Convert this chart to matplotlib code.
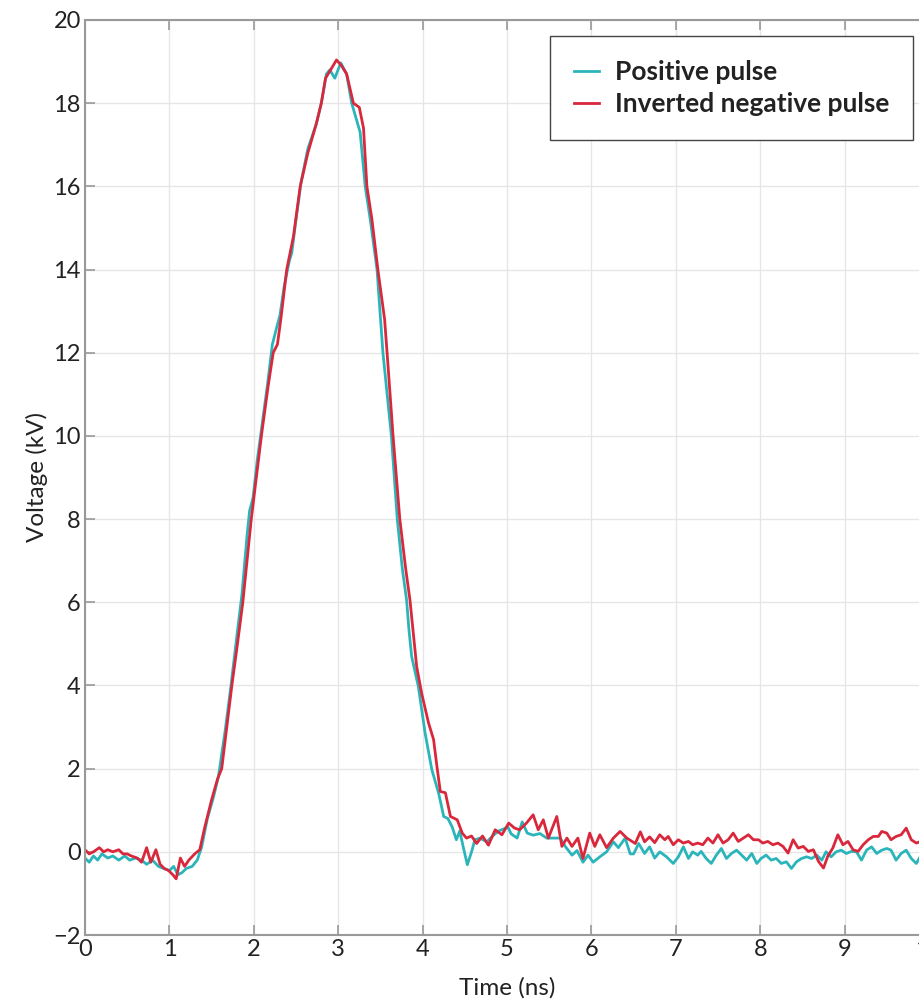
import matplotlib
matplotlib.use("Agg")
import matplotlib.pyplot as plt

# positive pulse (kV) vs time (ns)
pos_t = [0.0, 0.05, 0.1, 0.15, 0.2, 0.27, 0.33, 0.4, 0.47, 0.53, 0.6, 0.67, 0.73, 0.8, 0.87,
         0.93, 1.0, 1.05, 1.1, 1.15, 1.2, 1.27, 1.33, 1.38, 1.45, 1.52, 1.58, 1.66, 1.73, 1.8,
         1.86, 1.92, 1.95, 1.99, 2.04, 2.1, 2.16, 2.22, 2.27, 2.31, 2.36, 2.42, 2.45, 2.5, 2.56,
         2.64, 2.74, 2.8, 2.86, 2.9, 2.96, 3.03, 3.1, 3.16, 3.26, 3.32, 3.38, 3.46, 3.53, 3.58,
         3.63, 3.7, 3.76, 3.81, 3.84, 3.87, 3.95, 4.03, 4.11, 4.19, 4.25, 4.3, 4.35, 4.4, 4.44,
         4.48, 4.53, 4.58, 4.62, 4.68, 4.76, 4.84, 4.9, 4.96, 5.01, 5.05, 5.12, 5.18, 5.24, 5.31,
         5.39, 5.47, 5.55, 5.63, 5.69, 5.77, 5.83, 5.9, 5.96, 6.02, 6.1, 6.18, 6.26, 6.32, 6.4,
         6.46, 6.5, 6.56, 6.63, 6.69, 6.75, 6.81, 6.89, 6.97, 7.03, 7.09, 7.15, 7.20, 7.26, 7.30,
         7.36, 7.42, 7.48, 7.54, 7.60, 7.66, 7.72, 7.78, 7.84, 7.90, 7.96, 8.01, 8.07, 8.13, 8.19,
         8.25, 8.31, 8.37, 8.43, 8.49, 8.55, 8.61, 8.67, 8.73, 8.78, 8.84, 8.90, 8.96, 9.02, 9.08,
         9.14, 9.20, 9.26, 9.32, 9.38, 9.44, 9.50, 9.55, 9.61, 9.67, 9.73, 9.79, 9.85, 9.90, 9.95,
         10.0]
pos_v = [-0.15, -0.25, -0.1, -0.2, -0.05, -0.15, -0.1, -0.2, -0.1, -0.2, -0.15, -0.2, -0.3, -0.2,
         -0.35, -0.4, -0.45, -0.35, -0.55, -0.5, -0.4, -0.35, -0.2, 0.1, 0.8, 1.3, 1.8, 2.9, 4.0,
         5.2, 6.2, 7.6, 8.2, 8.5, 9.4, 10.3, 11.2, 12.2, 12.6, 12.9, 13.6, 14.2, 14.4, 15.2, 16.1,
         16.9, 17.5, 18.0, 18.7, 18.8, 18.6, 18.97, 18.7, 18.0, 17.3, 16.0, 15.2, 14.0, 12.0, 11.0,
         10.0, 8.0, 6.8, 6.06, 5.3, 4.7, 3.97, 2.85, 1.97, 1.41, 0.85, 0.8, 0.6, 0.29, 0.5,
         0.13, -0.31, 0.0, 0.29, 0.33, 0.24, 0.4, 0.5, 0.55, 0.6, 0.43, 0.33, 0.72, 0.45, 0.4,
         0.44, 0.33, 0.33, 0.33, 0.13, -0.08, 0.03, -0.25, -0.08, -0.25, -0.12, 0.0, 0.24, 0.1, 0.33,
         -0.05, -0.05, 0.2, -0.04, 0.12, -0.15, 0.0, -0.12, -0.28, -0.12, 0.12, -0.16, 0.0, -0.08, 0.01,
         -0.16, -0.28, -0.08, 0.08, -0.16, -0.04, 0.04, -0.08, -0.2, -0.04, -0.28, -0.16, -0.08, -0.2, -0.16,
         -0.28, -0.24, -0.4, -0.24, -0.16, -0.12, -0.16, -0.08, -0.2, 0.0, -0.12, 0.0, 0.04, -0.04, 0.01,
         0.0, -0.2, 0.04, 0.12, -0.04, 0.04, 0.08, 0.04, -0.2, -0.04, 0.04, -0.16, -0.28, -0.1, -0.22,
         -0.08]

# inverted negative pulse
neg_t = [0.0, 0.05, 0.1, 0.17, 0.22, 0.27, 0.33, 0.4, 0.45, 0.5, 0.55, 0.62, 0.67, 0.73, 0.78,
         0.84, 0.89, 0.94, 0.99, 1.04, 1.08, 1.13, 1.18, 1.23, 1.3, 1.36, 1.42, 1.5, 1.57, 1.62,
         1.68, 1.74, 1.8, 1.87, 1.97, 2.09, 2.17, 2.23, 2.28, 2.32, 2.39, 2.47, 2.55, 2.64, 2.74,
         2.8, 2.85, 2.91, 2.98, 3.04, 3.1, 3.18, 3.25, 3.3, 3.34, 3.4, 3.47, 3.55, 3.59, 3.65,
         3.73, 3.8, 3.85, 3.93, 3.99, 4.07, 4.13, 4.17, 4.21, 4.27, 4.33, 4.41, 4.47, 4.52, 4.58,
         4.64, 4.71, 4.78, 4.86, 4.94, 5.02, 5.09, 5.15, 5.23, 5.31, 5.37, 5.43, 5.49, 5.59, 5.65,
         5.71, 5.77, 5.84, 5.9, 5.98, 6.04, 6.1, 6.18, 6.26, 6.34, 6.42, 6.52, 6.58, 6.63, 6.69,
         6.75, 6.81, 6.87, 6.91, 6.97, 7.03, 7.09, 7.15, 7.20, 7.26, 7.32, 7.38, 7.44, 7.50, 7.56,
         7.62, 7.68, 7.74, 7.80, 7.86, 7.92, 7.98, 8.03, 8.09, 8.15, 8.21, 8.27, 8.33, 8.39, 8.45,
         8.51, 8.57, 8.63, 8.69, 8.75, 8.80, 8.86, 8.92, 8.98, 9.04, 9.10, 9.16, 9.22, 9.28, 9.34,
         9.40, 9.44, 9.50, 9.55, 9.61, 9.67, 9.73, 9.79, 9.85, 9.90, 9.95, 10.0]
neg_v = [0.05, -0.05, 0.0, 0.1, 0.0, 0.05, 0.0, 0.05, -0.05, -0.05, -0.1, -0.15, -0.25, 0.1, -0.25,
         0.05, -0.3, -0.4, -0.45, -0.55, -0.65, -0.15, -0.35, -0.2, -0.05, 0.05, 0.6, 1.25, 1.75, 2.0,
         3.0, 4.0, 4.9, 6.0, 8.0, 10.0, 11.2, 12.0, 12.2, 12.8, 14.0, 14.8, 16.0, 16.8, 17.5,
         18.0, 18.6, 18.8, 19.04, 18.9, 18.7, 18.0, 17.9, 17.4, 16.0, 15.2, 14.0, 12.8, 11.7, 10.0,
         8.0, 6.8, 6.06, 4.45, 3.8, 3.1, 2.7, 2.05, 1.45, 1.42, 0.85, 0.77, 0.45, 0.33, 0.38,
         0.2, 0.38, 0.16, 0.53, 0.41, 0.69, 0.57, 0.53, 0.69, 0.89, 0.53, 0.77, 0.33, 0.85, 0.13,
         0.33, 0.13, 0.33, -0.16, 0.45, 0.13, 0.41, 0.1, 0.33, 0.49, 0.33, 0.2, 0.48, 0.24, 0.36,
         0.22, 0.41, 0.29, 0.37, 0.17, 0.29, 0.21, 0.25, 0.17, 0.21, 0.17, 0.33, 0.21, 0.41, 0.21,
         0.29, 0.45, 0.25, 0.33, 0.41, 0.29, 0.29, 0.21, 0.25, 0.17, 0.21, 0.13, -0.03, 0.29, 0.09,
         0.13, 0.01, 0.05, -0.23, -0.39, -0.11, 0.09, 0.41, 0.17, 0.25, 0.05, 0.01, 0.17, 0.29, 0.37,
         0.37, 0.49, 0.45, 0.29, 0.37, 0.41, 0.57, 0.29, 0.21, 0.25, 0.3, 0.2]

x_ticks = [0, 1, 2, 3, 4, 5, 6, 7, 8, 9, 10]
y_ticks = [-2, 0, 2, 4, 6, 8, 10, 12, 14, 16, 18, 20]

plt.rcParams['font.family'] = ['Lato', 'DejaVu Sans']

fig = plt.figure(figsize=(9.19, 9.99), dpi=100)
# axes runs past the right edge, like the cropped original
ax = fig.add_axes([85 / 919, 64 / 999, 844 / 919, 915 / 999])

ax.plot(pos_t, pos_v, color='#2bb5bb', lw=2.0, solid_joinstyle='round', label='Positive pulse')
ax.plot(neg_t, neg_v, color='#d9283b', lw=2.0, solid_joinstyle='round',
        label='Inverted negative pulse')

ax.set_xlim(0, 10)
ax.set_ylim(-2, 20)
ax.set_xticks(x_ticks)
ax.set_yticks(y_ticks)
ax.grid(True, color='#e6e6e6', lw=1)
ax.set_axisbelow(True)
ax.tick_params(direction='in', length=7, width=1.2, color='#999999', labelsize=17,
               labelcolor='#222222', top=True, right=False, pad=3)
for s in ax.spines.values():
    s.set_color('#999999')
    s.set_linewidth(1.5)

ax.set_xlabel('Time (ns)', fontsize=17.5, color='#222222', labelpad=12)
ax.set_ylabel('Voltage (kV)', fontsize=17.5, color='#222222', labelpad=4)

leg = ax.legend(loc='upper right', bbox_to_anchor=(913 / 919, 1 - 36 / 999),
                bbox_transform=fig.transFigure, fancybox=False, framealpha=1,
                edgecolor='#444444', handlelength=0.95, handletextpad=0.6,
                borderpad=0.9, labelspacing=0.32, borderaxespad=0,
                prop={'size': 19, 'weight': 'bold'})
leg.get_frame().set_linewidth(1.0)
for t in leg.get_texts():
    t.set_color('#222222')

fig.savefig('out.png', dpi=100)
